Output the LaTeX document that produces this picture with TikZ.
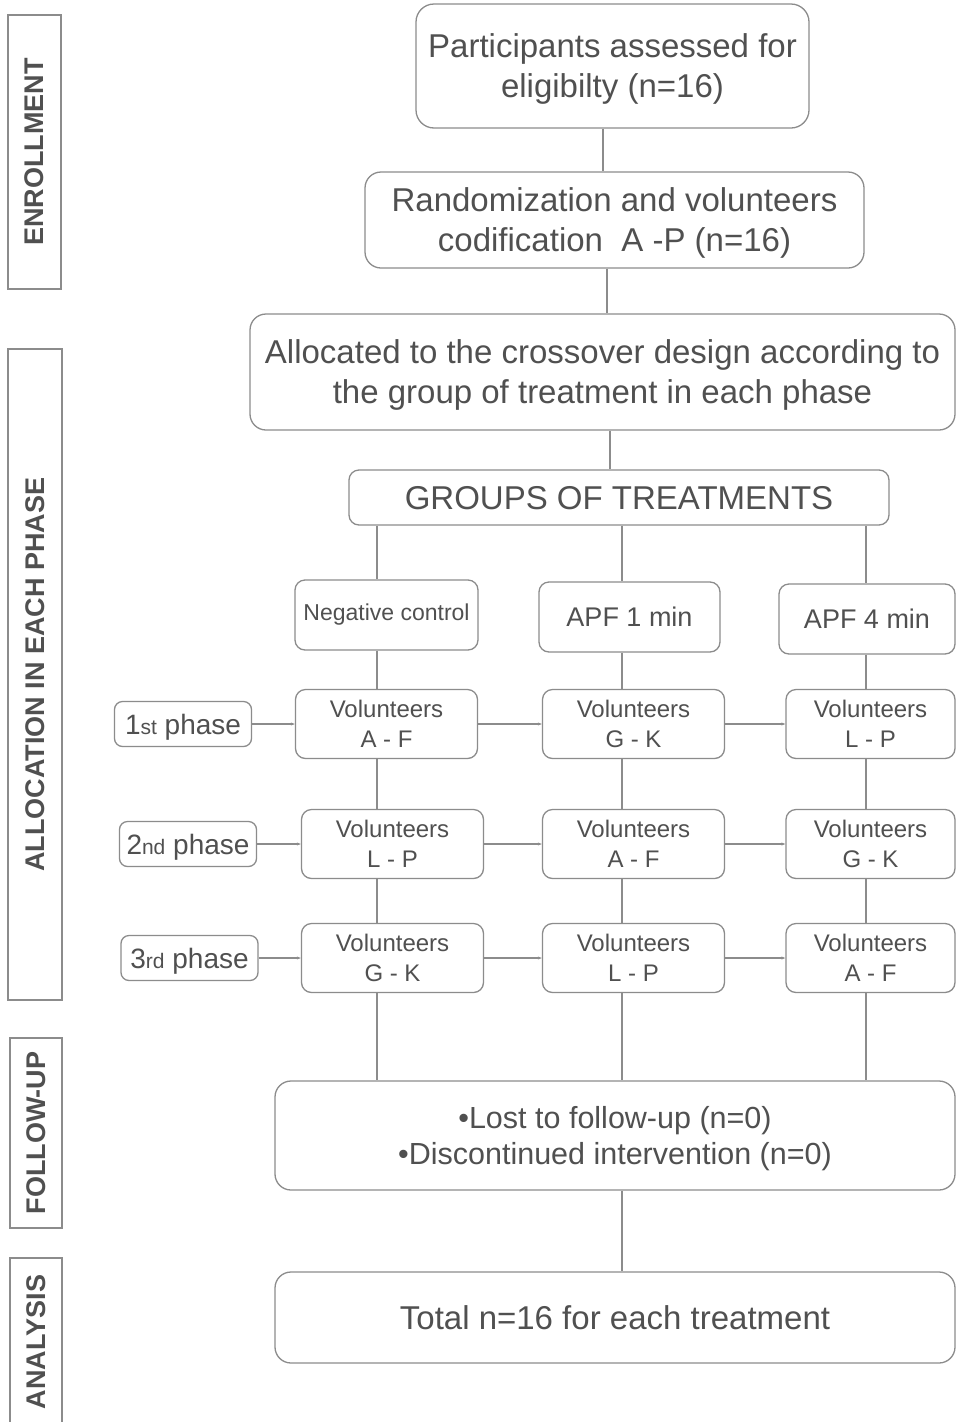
\documentclass[tikz,border=0pt]{standalone}
\usepackage{fontspec}
\setmainfont{Liberation Sans}
\usetikzlibrary{arrows.meta}
\definecolor{inkgray}{RGB}{80,80,80}
\definecolor{rulegray}{RGB}{140,140,140}
\tikzset{>={Stealth[length=4pt,width=3pt]}}

\begin{document}
\begin{tikzpicture}[x=1pt,y=-1pt,
  flow/.style={draw=rulegray, line width=1.3pt, rounded corners=16pt, align=center,
    inner sep=0pt, text=inkgray, font=\fontsize{33}{40}\selectfont},
  big/.style={flow, text depth=0pt},
  vol/.style={flow, rounded corners=10pt, minimum width=182pt, minimum height=69pt,
    font=\fontsize{24}{30}\selectfont},
  phase/.style={flow, rounded corners=8pt, minimum width=137pt, minimum height=45pt,
    text depth=0pt, font=\fontsize{28}{28}\selectfont},
  stage/.style={draw=rulegray, line width=1.3pt, rotate=90, inner sep=0pt, text=inkgray,
    font=\bfseries\fontsize{27}{27}\selectfont},
  link/.style={draw=rulegray, line width=1.1pt}]
\useasboundingbox[fill=white] (0,0) rectangle (956,1422);

% stages on the left
\node[stage, minimum width=274pt, minimum height=53pt] (enrol) at (34.5,152) {ENROLLMENT};
\node[stage, minimum width=651pt, minimum height=54pt] (alloc) at (35,674.5) {ALLOCATION IN EACH PHASE};
\node[stage, minimum width=190pt, minimum height=52pt] (follow) at (36,1133) {FOLLOW-UP};
\node[stage, minimum width=168pt, minimum height=52pt] (anal) at (36,1342) {ANALYSIS};

% main flow
\node[big, rounded corners=18pt, minimum width=393pt, minimum height=124pt] (assess) at (612.5,66)
  {Participants assessed for\\eligibilty (n=16)};
\node[big, minimum width=499pt, minimum height=96pt] (random) at (614.5,220)
  {Randomization and volunteers\\codification\ \ A -P (n=16)};
\node[big, minimum width=705pt, minimum height=116pt] (design) at (602.5,372)
  {Allocated to the crossover design according to\\the group of treatment in each phase};
\node[big, rounded corners=10pt, minimum width=540pt, minimum height=55pt] (groups) at (619,497.5)
  {GROUPS OF TREATMENTS};

\coordinate (m1) at (603,0);
\coordinate (m2) at (607,0);
\coordinate (m3) at (610,0);
\coordinate (c1) at (377,0);
\coordinate (c2) at (622,0);
\coordinate (c3) at (866,0);

\draw[link] (assess.south -| m1) -- (random.north -| m1);
\draw[link] (random.south -| m2) -- (design.north -| m2);
\draw[link] (design.south -| m3) -- (groups.north -| m3);

% treatments
\node[vol, minimum width=183pt, minimum height=70pt, font=\fontsize{23}{23}\selectfont] (ctrl0) at (386.5,615) {Negative control};
\node[vol, minimum width=181pt, minimum height=70pt, font=\fontsize{27}{27}\selectfont] (one0) at (629.5,617) {APF 1 min};
\node[vol, minimum width=176pt, minimum height=70pt, font=\fontsize{27}{27}\selectfont] (four0) at (867,619) {APF 4 min};

\draw[link] (groups.south -| c1) -- (ctrl0.north -| c1);
\draw[link] (groups.south -| c2) -- (one0.north -| c2);
\draw[link] (groups.south -| c3) -- (four0.north -| c3);

% phases
\foreach \row/\ord/\px/\nx/\y/\a/\b/\c in
  {1/st/183/386.5/724/A - F/G - K/L - P,
   2/nd/188/392.5/844/L - P/A - F/G - K,
   3/rd/189.5/392.5/958/G - K/L - P/A - F}{
  \node[phase] (ph\row) at (\px,\y) {\row{\fontsize{21}{21}\selectfont\ord} phase};
  \node[vol] (ctrl\row) at (\nx,\y) {Volunteers\\\a};
  \node[vol] (one\row) at (633.5,\y) {Volunteers\\\b};
  \node[vol, minimum width=169pt] (four\row) at (870.5,\y) {Volunteers\\\c};
  \draw[link,->] (ph\row) -- (ctrl\row);
  \draw[link,->] (ctrl\row) -- (one\row);
  \draw[link,->] (one\row) -- (four\row);
}
\foreach \r/\s in {0/1,1/2,2/3}{
  \draw[link] (ctrl\r.south -| c1) -- (ctrl\s.north -| c1);
  \draw[link] (one\r.south -| c2) -- (one\s.north -| c2);
  \draw[link] (four\r.south -| c3) -- (four\s.north -| c3);
}

% follow-up and analysis
\node[big, minimum width=680pt, minimum height=109pt, font=\fontsize{30.5}{36}\selectfont] (lost) at (615,1135.5)
  {\textbullet Lost to follow-up (n=0)\\\textbullet Discontinued intervention (n=0)};
\node[big, minimum width=680pt, minimum height=91pt] (total) at (615,1317.5)
  {Total n=16 for each treatment};

\draw[link] (ctrl3.south -| c1) -- (lost.north -| c1);
\draw[link] (one3.south -| c2) -- (lost.north -| c2);
\draw[link] (four3.south -| c3) -- (lost.north -| c3);
\draw[link] (lost.south -| c2) -- (total.north -| c2);
\end{tikzpicture}
\end{document}
